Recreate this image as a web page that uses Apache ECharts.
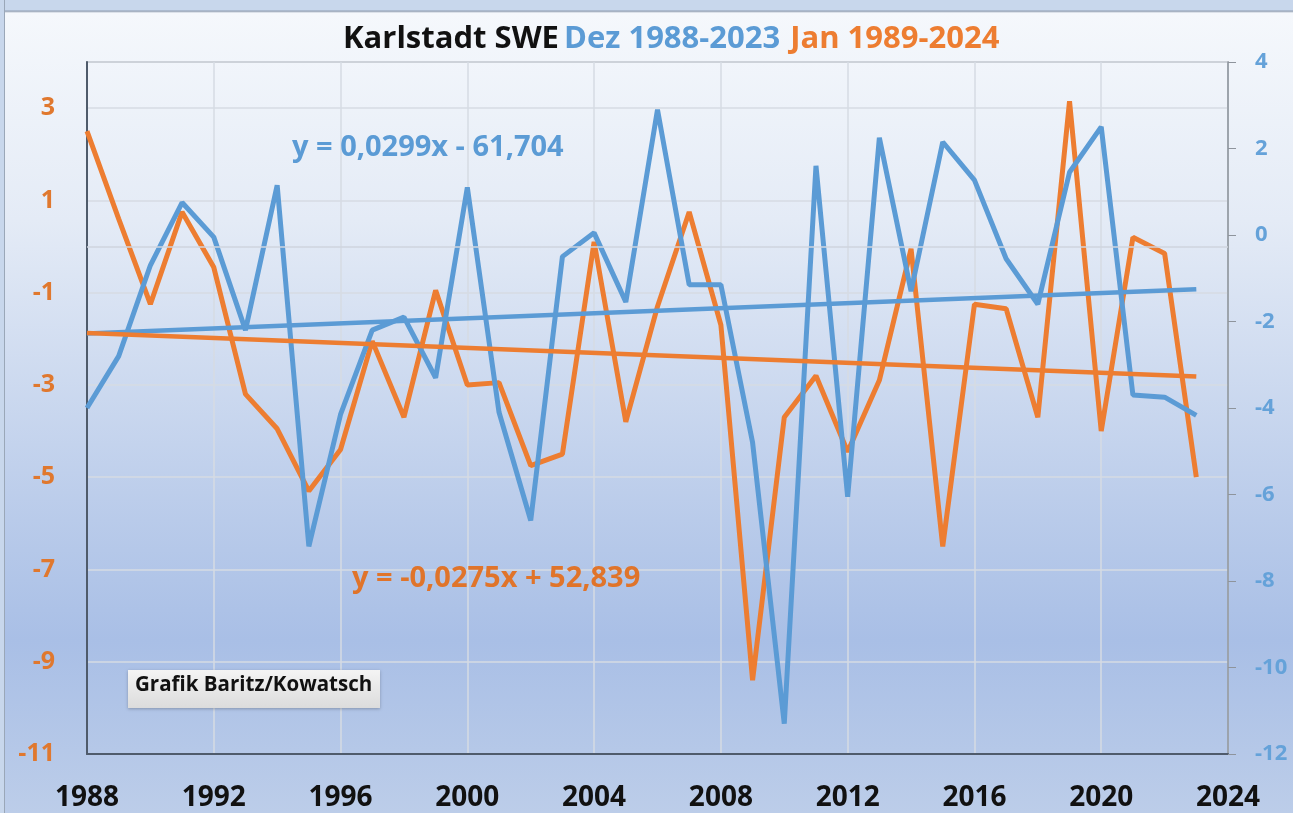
<!DOCTYPE html>
<html>
<head>
<meta http-equiv="content-type" content="text/html; charset=utf-8"/>
<title>Karlstadt SWE Dez / Jan</title>
<style type="text/css">
body,html{width:100%;height:100%;margin:0;overflow:hidden}
#chartDiv{position:absolute;left:0;top:0;width:1293px;height:813px;
  background:linear-gradient(to bottom,#c8d7ec 0px,#c8d7ec 10px,#8e9cb0 11px,#f5f8fc 13px,#e4ebf6 220px,#b9cbea 520px,#a9bfe6 640px,#bccde9 813px)}
#leftEdge{position:absolute;left:0;top:0;width:4px;height:813px;background:#c8d7ec;border-right:1px solid #9aa7b8}
</style>
<script src="https://cdn.jsdelivr.net/npm/echarts@6/dist/echarts.min.js"></script>
</head>
<body>
<div id="chartDiv"></div>
<div id="leftEdge"></div>
<script>
	// Jahre (x-Achse), Dezember- und Januarwerte
	var years = [1988,1989,1990,1991,1992,1993,1994,1995,1996,1997,1998,1999,2000,2001,2002,2003,2004,2005,
	             2006,2007,2008,2009,2010,2011,2012,2013,2014,2015,2016,2017,2018,2019,2020,2021,2022,2023];
	var dez = [-4.0,-2.8,-0.7,0.75,-0.05,-2.2,1.15,-7.2,-4.15,-2.2,-1.9,-3.3,1.1,-4.1,-6.6,-0.5,0.05,-1.55,
	           2.9,-1.15,-1.15,-4.8,-11.3,1.6,-6.05,2.25,-1.3,2.15,1.27,-0.55,-1.6,1.45,2.5,-3.7,-3.75,-4.17];
	var jan = [2.5,0.6,-1.25,0.75,-0.45,-3.2,-3.95,-5.3,-4.4,-2.05,-3.7,-0.95,-3.0,-2.95,-4.75,-4.5,0.1,-3.8,
	           -1.3,0.75,-1.7,-9.4,-3.7,-2.8,-4.45,-2.9,-0.05,-6.5,-1.25,-1.35,-3.7,3.15,-4.0,0.2,-0.15,-5.0];
	var yearTicks = [1988,2024];
	var leftTicks = [-11,4];
	var rightTicks = [-12,4];
	var dezTrendText = "y = 0,0299x - 61,704";
	var janTrendText = "y = -0,0275x + 52,839";
	var titleParts = ["Karlstadt SWE", "Dez 1988-2023", "Jan 1989-2024"];
	var creditText = "Grafik Baritz/Kowatsch";

	var blue = "#5b9bd5";
	var orange = "#ed7d31";
	var font = '"Open Sans", "Liberation Sans", sans-serif';

	// lineare Regression wie die Excel-Trendlinie
	function linFit(xs, ys) {
		var n = xs.length, sx = 0, sy = 0, sxx = 0, sxy = 0;
		for (var i = 0; i < n; i++) {
			sx += xs[i]; sy += ys[i]; sxx += xs[i] * xs[i]; sxy += xs[i] * ys[i];
		}
		var b = (n * sxy - sx * sy) / (n * sxx - sx * sx);
		return [b, (sy - b * sx) / n];
	}
	function pairs(xs, ys) {
		var out = [];
		for (var i = 0; i < xs.length; i++) out.push([xs[i], ys[i]]);
		return out;
	}
	function trend(xs, ys) {
		var f = linFit(xs, ys), x0 = xs[0], x1 = xs[xs.length - 1];
		return [[x0, f[1] + f[0] * x0], [x1, f[1] + f[0] * x1]];
	}

	var myChart = echarts.init(document.getElementById("chartDiv"));
	var option = {
		backgroundColor: "transparent",
		animation: false,
		title: {
			text: "{a|" + titleParts[0] + "} {b|" + titleParts[1] + "}  {c|" + titleParts[2] + "}",
			left: 338, top: 19,
			textStyle: {
				rich: {
					a: {fontFamily: font, fontWeight: "bold", fontSize: 31, color: "#111"},
					b: {fontFamily: font, fontWeight: "bold", fontSize: 31, color: blue},
					c: {fontFamily: font, fontWeight: "bold", fontSize: 31, color: orange}
				}
			}
		},
		grid: {left: 87, right: 65, top: 62, bottom: 59, show: true, borderColor: "#9a9fa8", borderWidth: 1.5, backgroundColor: "transparent"},
		xAxis: {
			type: "value", min: yearTicks[0], max: yearTicks[1], interval: 4,
			axisLine: {show: true, onZero: false, lineStyle: {color: "#4f5b6b", width: 2}},
			axisTick: {show: false},
			axisLabel: {color: "#111", fontFamily: font, fontWeight: "bold", fontSize: 28, margin: 30,
				formatter: function (v) { return String(v); }},
			splitLine: {show: true, lineStyle: {color: "#d6dbe3", width: 1.5}}
		},
		yAxis: [{
			type: "value", min: leftTicks[0], max: leftTicks[1], interval: 2, position: "left",
			axisLine: {show: true, lineStyle: {color: "#4f5b6b", width: 2}},
			axisTick: {show: false},
			axisLabel: {color: "#e0782e", fontFamily: font, fontWeight: "bold", fontSize: 25, margin: 32, showMaxLabel: false},
			splitLine: {show: true, lineStyle: {color: "#d6dbe3", width: 1.5}}
		}, {
			type: "value", min: rightTicks[0], max: rightTicks[1], interval: 2, position: "right",
			axisLine: {show: true, lineStyle: {color: "#8e949c", width: 1.5}},
			axisTick: {show: true, inside: false, length: 8, lineStyle: {color: "#8e949c"}},
			axisLabel: {color: "#65a2d9", fontFamily: font, fontWeight: "bold", fontSize: 22, margin: 27},
			splitLine: {show: false}
		}],
		series: [{
			name: "Dez", type: "line", yAxisIndex: 1, data: pairs(years, dez),
			showSymbol: false, lineStyle: {color: blue, width: 5}, z: 3
		}, {
			name: "Jan", type: "line", yAxisIndex: 0, data: pairs(years, jan),
			showSymbol: false, lineStyle: {color: orange, width: 5}, z: 2,
			markLine: {silent: true, symbol: "none", label: {show: false},
				lineStyle: {color: "#cfd5de", width: 1.5, type: "solid"}, data: [{yAxis: 0}]}
		}, {
			name: "Trend Dez", type: "line", yAxisIndex: 1, data: trend(years, dez),
			showSymbol: false, lineStyle: {color: blue, width: 4.5}, z: 4
		}, {
			name: "Trend Jan", type: "line", yAxisIndex: 0, data: trend(years, jan),
			showSymbol: false, lineStyle: {color: orange, width: 4.5}, z: 4
		}],
		graphic: [{
			type: "text", left: 292, top: 133, z: 10,
			style: {text: dezTrendText, fill: blue, font: "bold 29px " + font}
		}, {
			type: "text", left: 352, top: 564, z: 10,
			style: {text: janTrendText, fill: "#e0742a", font: "bold 29px " + font}
		}, {
			type: "rect", left: 128, top: 670, z: 10,
			shape: {width: 252, height: 38},
			style: {
				fill: new echarts.graphic.LinearGradient(0, 0, 0, 1, [{offset: 0, color: "#f4f4f4"}, {offset: 1, color: "#dcdcdc"}]),
				shadowBlur: 3, shadowColor: "rgba(0,0,0,0.25)", shadowOffsetY: 1
			}
		}, {
			type: "text", left: 135, top: 675, z: 11,
			style: {text: creditText, fill: "#111", font: "bold 20.5px " + font}
		}]
	};
	myChart.setOption(option);
</script>
</body>
</html>
